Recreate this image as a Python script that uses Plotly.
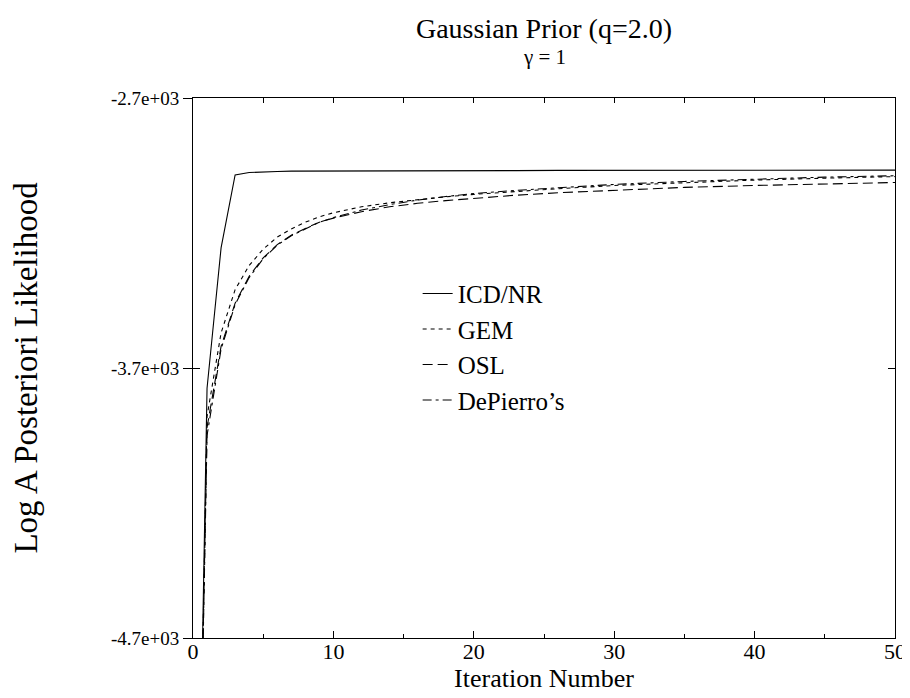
import plotly.graph_objects as go

# Data
iterations = [0, 1, 2, 3, 4, 5, 6, 7, 8, 9, 10, 11, 12, 14, 16, 18, 20, 23, 26, 30, 35, 40, 45, 50]

icd_nr = [-6700, -3775, -3255, -2985, -2976, -2973, -2972, -2971, -2971, -2970, -2970, -2970, -2970,
          -2969, -2969, -2969, -2969, -2969, -2968, -2968, -2968, -2968, -2967, -2967]
gem = [-6700, -3880, -3570, -3410, -3320, -3260, -3215, -3185, -3160, -3140, -3125, -3113, -3103,
       -3088, -3076, -3066, -3057, -3046, -3036, -3024, -3013, -3004, -2997, -2991]
osl = [-6700, -3920, -3620, -3460, -3360, -3292, -3243, -3208, -3183, -3160, -3145, -3132, -3121,
       -3103, -3090, -3080, -3071, -3060, -3051, -3041, -3031, -3024, -3018, -3013]
depierro = [-6700, -3950, -3630, -3465, -3365, -3295, -3245, -3210, -3185, -3160, -3143, -3128, -3115,
            -3095, -3078, -3065, -3054, -3042, -3032, -3020, -3009, -3000, -2993, -2988]

series_names = ["ICD/NR", "GEM", "OSL", "DePierro\u2019s"]
y_tickvals = [-2700, -3700, -4700]
y_ticktext = ["-2.7e+03", "-3.7e+03", "-4.7e+03"]
x_tickvals = [0, 10, 20, 30, 40, 50]

FONT = "Liberation Serif, Times New Roman, serif"

fig = go.Figure()
styles = [("solid", 1.1), ("4px,4px", 1.1), ("10px,5px", 1.1), ("9px,4px,3px,4px", 1.1)]
for name, vals, (dash, w) in zip(series_names, [icd_nr, gem, osl, depierro], styles):
    fig.add_trace(go.Scatter(x=iterations, y=vals, mode="lines", name=name,
                             legendgroup=name,
                             line=dict(color="black", width=w, dash=dash)))

# invisible trace to carry the secondary (tick-only) axes
fig.add_trace(go.Scatter(x=iterations, y=icd_nr, mode="lines", xaxis="x2", yaxis="y2",
                         showlegend=False, hoverinfo="skip",
                         line=dict(color="rgba(0,0,0,0)", width=0)))

fig.update_layout(
    width=910, height=698,
    margin=dict(l=185, r=14, t=90, b=68),
    paper_bgcolor="white", plot_bgcolor="white",
    font=dict(family=FONT, color="black"),
    title=dict(text="Gaussian Prior (q=2.0)", x=0.5, xref="paper", xanchor="center",
               y=1 - 20 / 698, yanchor="middle", font=dict(size=28, family=FONT)),
    showlegend=True,
    legend=dict(x=0.32, y=0.68, xanchor="left", yanchor="top",
                font=dict(size=25, family=FONT), bgcolor="rgba(0,0,0,0)",
                tracegroupgap=0),
    xaxis=dict(range=[0, 50], tickvals=x_tickvals, ticks="inside", ticklen=7,
               tickcolor="black", tickwidth=1,
               minor=dict(dtick=5, ticks="inside", ticklen=4, tickcolor="black"),
               showline=True, linecolor="black", linewidth=1, mirror=True,
               showgrid=False, zeroline=False,
               tickfont=dict(size=22, family=FONT), ticklabelstandoff=-6,
               title=dict(text="Iteration Number", font=dict(size=26, family=FONT), standoff=4)),
    yaxis=dict(range=[-4700, -2700], tickvals=y_tickvals, ticktext=y_ticktext,
               ticks="outside", ticklen=9, tickcolor="black",
               showline=True, linecolor="black", linewidth=1, mirror=True,
               showgrid=False, zeroline=False,
               tickfont=dict(size=19, family=FONT),
               title=dict(text="Log A Posteriori Likelihood", font=dict(size=33, family=FONT), standoff=68)),
    xaxis2=dict(range=[0, 50], overlaying="x", side="top", anchor="y", dtick=5, tick0=0,
                ticks="inside", ticklen=5, tickcolor="black", showticklabels=False,
                showline=False, showgrid=False, zeroline=False),
    yaxis2=dict(range=[-4700, -2700], overlaying="y", side="left", anchor="x",
                tickvals=y_tickvals, ticks="inside", ticklen=7, tickcolor="black",
                mirror="ticks", showticklabels=False, showline=False,
                showgrid=False, zeroline=False),
)

fig.add_annotation(text="\u03b3 = 1", xref="paper", yref="paper", x=0.5, y=1 + 41 / 540,
                   xanchor="center", yanchor="middle", showarrow=False,
                   font=dict(size=21, family=FONT))

fig.write_html("out.html")
